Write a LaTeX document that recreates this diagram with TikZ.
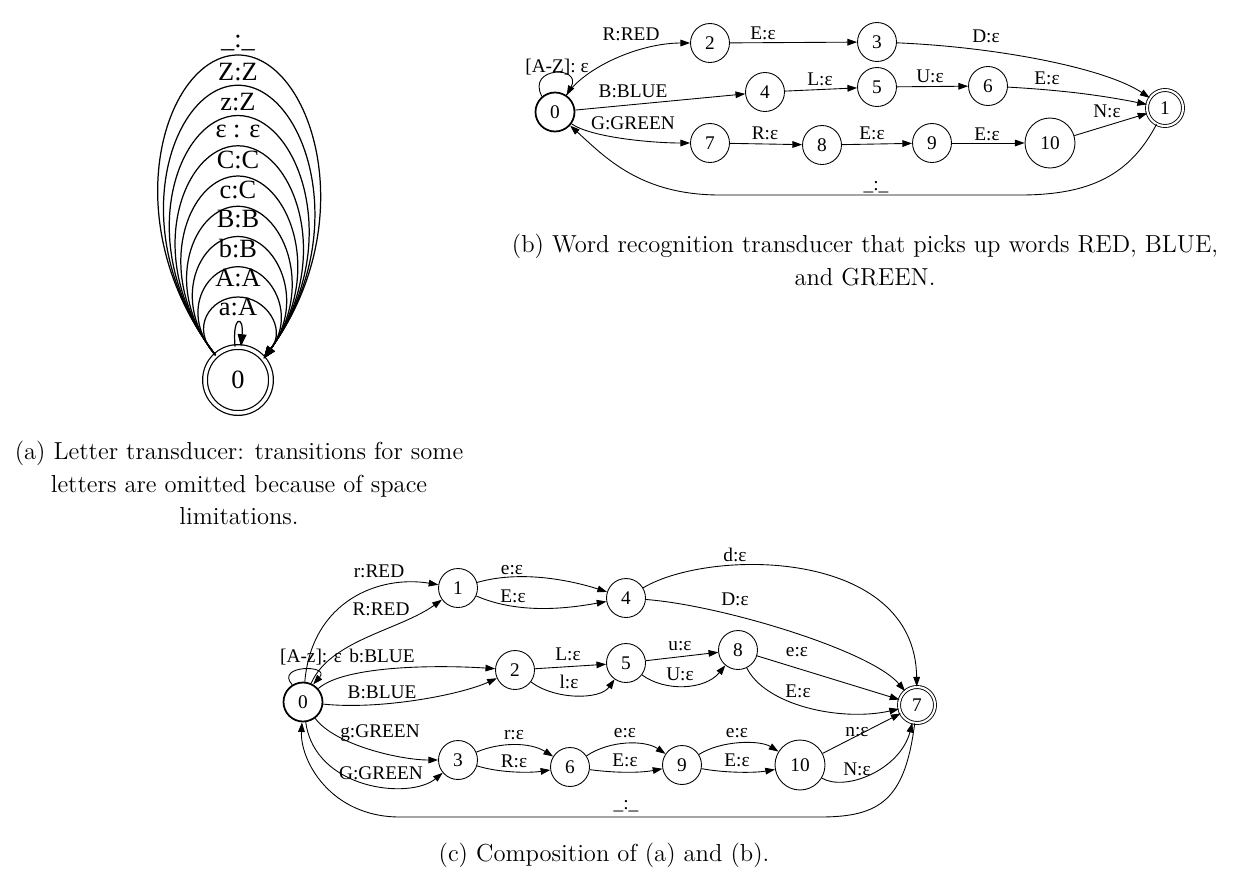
\documentclass[tikz,border=0pt]{standalone}
\usepackage{fontspec}
\newfontfamily\dotfont{Liberation Serif}
\usetikzlibrary{arrows.meta}

\tikzset{
	state/.style={circle, draw, line width=0.5pt, minimum size=0.78cm, inner sep=0pt, font=\dotfont\fontsize{11}{12}\selectfont},
	startstate/.style={state, line width=1pt},
	finalstate/.style={state, double, double distance=1.2pt, minimum size=0.72cm},
	trans/.style={line width=0.5pt, -{Triangle[length=5.5pt,width=3.8pt]}},
	atrans/.style={line width=0.7pt, -{Triangle[length=7pt,width=5pt]}},
	lab/.style={font=\dotfont\fontsize{11}{12}\selectfont, inner sep=0pt},
	alab/.style={font=\dotfont\fontsize{15}{16}\selectfont, inner sep=0pt},
	capt/.style={align=center, font=\fontsize{14}{18.7}\selectfont, inner sep=0pt}
}

\begin{document}
\begin{tikzpicture}[x=0.02cm, y=-0.02cm]

\useasboundingbox (0,0) rectangle (1237,883);

% (a) letter transducer
\node[state, double, double distance=2pt, line width=0.7pt, minimum size=1.32cm, font=\dotfont\fontsize{15}{16}\selectfont] (a0) at (238,380) {0};

\draw [atrans] (a0.95) .. controls (232,315) and (244,315) .. (a0.85);
\node [alab] (la0) at (238,307) {a:A};

\foreach \k/\t in {1/A:A, 2/b:B, 3/B:B, 4/c:C, 5/C:C, 6/{ε : ε}, 7/z:Z, 8/Z:Z, 9/\_:\_}
{
	\draw [atrans] (a0.132) .. controls (199.1 - 9.72*\k, 342 - 13.6*\k) and (215.7 - 5.58*\k, 327.25 - 30.25*\k) .. (238, 327.25 - 30.25*\k)
		.. controls (260.3 + 5.58*\k, 327.25 - 30.25*\k) and (276.9 + 9.72*\k, 342 - 13.6*\k) .. (a0.40);
	\node [alab] (la\k) at (238, 307 - 29.33*\k) {\t};
}

\node[capt] (capa) at (239,483) {(a) Letter transducer: transitions for some\\letters are omitted because of space\\limitations.};

% (b) word recognition
\node[startstate] (b0) at (555,112) {0};
\node[finalstate] (b1) at (1165,108) {1};
\node[state] (b2) at (710,43) {2};
\node[state] (b3) at (877,42) {3};
\node[state] (b4) at (765,92) {4};
\node[state] (b5) at (877,87) {5};
\node[state] (b6) at (988,86) {6};
\node[state] (b7) at (710,143) {7};
\node[state] (b8) at (822,145) {8};
\node[state] (b9) at (932,143) {9};
\node[state, minimum size=1cm] (b10) at (1050,143) {10};

\draw[trans] (b0.130) .. controls +(-16,-30) and +(16,-30) .. (b0.55);
\draw[trans] (b0) .. controls (585,67) and (640,43) .. (b2);
\draw[trans] (b2) -- (b3);
\draw[trans] (b3) .. controls (997,47) and (1105,68) .. (b1);
\draw[trans] (b0) -- (b4);
\draw[trans] (b4) -- (b5);
\draw[trans] (b5) -- (b6);
\draw[trans] (b6) .. controls (1060,90) and (1100,95) .. (b1);
\draw[trans] (b0) .. controls (590,137) and (650,143) .. (b7);
\draw[trans] (b7) -- (b8);
\draw[trans] (b8) -- (b9);
\draw[trans] (b9) -- (b10);
\draw[trans] (b10) -- (b1);
\draw[trans] (b1) .. controls (1130,175) and (1090,195) .. (1020,195) -- (720,195) .. controls (640,195) and (605,157) .. (b0);

\node[lab] (lb1) at (557,67) {[A-Z]: ε};
\node[lab] (lb2) at (631,34) {R:RED};
\node[lab] (lb3) at (763,33) {E:ε};
\node[lab] (lb4) at (986,36) {D:ε};
\node[lab] (lb5) at (633,91) {B:BLUE};
\node[lab] (lb6) at (820,79) {L:ε};
\node[lab] (lb7) at (930,76) {U:ε};
\node[lab] (lb8) at (1047,78) {E:ε};
\node[lab] (lb9) at (1107,111) {N:ε};
\node[lab] (lb10) at (633,123) {G:GREEN};
\node[lab] (lb11) at (765,133) {R:ε};
\node[lab] (lb12) at (872,133) {E:ε};
\node[lab] (lb13) at (987,134) {E:ε};
\node[lab] (lb14) at (876,187) {\_:\_};

\node[capt] (capb) at (865,260) {(b) Word recognition transducer that picks up words RED, BLUE,\\and GREEN.};

% (c) composition
\node[startstate] (c0) at (303,702) {0};
\node[state] (c1) at (458,588) {1};
\node[state] (c2) at (515,670) {2};
\node[state] (c3) at (458,760) {3};
\node[state] (c4) at (626,598) {4};
\node[state] (c5) at (626,663) {5};
\node[state] (c6) at (570,767) {6};
\node[finalstate] (c7) at (917,705) {7};
\node[state] (c8) at (738,650) {8};
\node[state] (c9) at (682,765) {9};
\node[state, minimum size=1cm] (c10) at (800,765) {10};

\draw[trans] (c0.122) .. controls +(-18,-20) and +(18,-20) .. (c0.60);
\draw[trans] (c0) .. controls (312,600) and (380,575) .. (c1);
\draw[trans] (c0) .. controls (330,640) and (400,630) .. (c1);
\draw[trans] (c1) .. controls (520,570) and (570,580) .. (c4);
\draw[trans] (c1) .. controls (520,615) and (570,608) .. (c4);
\draw[trans] (c4) .. controls (710,548) and (915,548) .. (c7);
\draw[trans] (c4) .. controls (720,605) and (870,650) .. (c7);
\draw[trans] (c0) .. controls (345,665) and (440,665) .. (c2);
\draw[trans] (c0) .. controls (380,710) and (460,695) .. (c2);
\draw[trans] (c2) -- (c5);
\draw[trans] (c2) .. controls (555,700) and (600,700) .. (c5);
\draw[trans] (c5) -- (c8);
\draw[trans] (c5) .. controls (665,692) and (705,690) .. (c8);
\draw[trans] (c8) -- (c7);
\draw[trans] (c8) .. controls (765,705) and (840,722) .. (c7);
\draw[trans] (c0) .. controls (335,745) and (400,760) .. (c3);
\draw[trans] (c0) .. controls (315,790) and (410,800) .. (c3);
\draw[trans] (c3) .. controls (500,742) and (530,742) .. (c6);
\draw[trans] (c3) .. controls (500,773) and (530,773) .. (c6);
\draw[trans] (c6) .. controls (610,740) and (645,740) .. (c9);
\draw[trans] (c6) .. controls (615,773) and (640,773) .. (c9);
\draw[trans] (c9) .. controls (722,740) and (760,740) .. (c10);
\draw[trans] (c9) .. controls (725,773) and (755,773) .. (c10);
\draw[trans] (c10) -- (c7);
\draw[trans] (c10) .. controls (845,792) and (900,770) .. (c7);
\draw[trans] (c7) .. controls (905,800) and (880,817) .. (820,817) -- (400,817) .. controls (330,817) and (300,760) .. (c0);

\node[lab] (lc1) at (311,657) {[A-z]: ε};
\node[lab] (lc2) at (379,571) {r:RED};
\node[lab] (lc3) at (381,609) {R:RED};
\node[lab] (lc4) at (512,570) {e:ε};
\node[lab] (lc5) at (513,596) {E:ε};
\node[lab] (lc6) at (735,555) {d:ε};
\node[lab] (lc7) at (735,599) {D:ε};
\node[lab] (lc8) at (382,656) {b:BLUE};
\node[lab] (lc9) at (382,692) {B:BLUE};
\node[lab] (lc10) at (568,654) {L:ε};
\node[lab] (lc11) at (569,682) {l:ε};
\node[lab] (lc12) at (680,646) {u:ε};
\node[lab] (lc13) at (680,674) {U:ε};
\node[lab] (lc14) at (797,652) {e:ε};
\node[lab] (lc15) at (798,691) {E:ε};
\node[lab] (lc16) at (380,733) {g:GREEN};
\node[lab] (lc17) at (381,773) {G:GREEN};
\node[lab] (lc18) at (514,735) {r:ε};
\node[lab] (lc19) at (514,761) {R:ε};
\node[lab] (lc20) at (625,733) {e:ε};
\node[lab] (lc21) at (625,760) {E:ε};
\node[lab] (lc22) at (737,733) {e:ε};
\node[lab] (lc23) at (737,760) {E:ε};
\node[lab] (lc24) at (857,732) {n:ε};
\node[lab] (lc25) at (857,769) {N:ε};
\node[lab] (lc26) at (626,806) {\_:\_};

\node[capt] (capc) at (604,855) {(c) Composition of (a) and (b).};

\end{tikzpicture}
\end{document}
